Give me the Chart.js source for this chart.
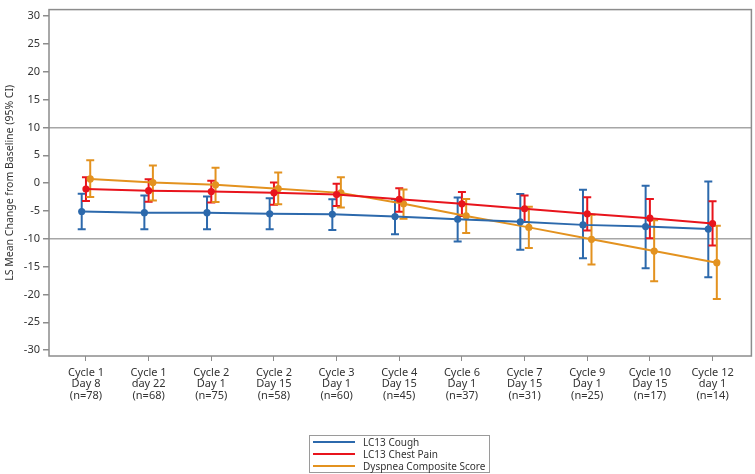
<!DOCTYPE html>
<html>
<head>
<meta charset="utf-8">
<script src="https://cdn.jsdelivr.net/npm/chart.js@4.4.1/dist/chart.umd.min.js"></script>
<style>
  html, body { margin: 0; padding: 0; background: #fff; }
  #wrap { position: relative; width: 755px; height: 474px; }
  #legend { position: absolute; left: 309px; top: 435px; width: 181px; height: 38px;
    border: 1px solid #9a9a9a; font-family: "Noto Sans", sans-serif; font-size: 10px; color: #333; box-sizing: border-box; padding-top: 0px; }
  .row { height: 12px; line-height: 12px; display: flex; align-items: center; white-space: nowrap; }
  .sw { width: 42px; height: 2px; margin-left: 3px; margin-right: 8px; flex: none; }
</style>
</head>
<body>
<div id="wrap">
  <canvas id="c" width="755" height="474"></canvas>
  <div id="legend"></div>
</div>
<script>
const categories = [
  ["Cycle 1", "Day 8", "(n=78)"],
  ["Cycle 1", "day 22", "(n=68)"],
  ["Cycle 2", "Day 1", "(n=75)"],
  ["Cycle 2", "Day 15", "(n=58)"],
  ["Cycle 3", "Day 1", "(n=60)"],
  ["Cycle 4", "Day 15", "(n=45)"],
  ["Cycle 6", "Day 1", "(n=37)"],
  ["Cycle 7", "Day 15", "(n=31)"],
  ["Cycle 9", "Day 1", "(n=25)"],
  ["Cycle 10", "Day 15", "(n=17)"],
  ["Cycle 12", "day 1", "(n=14)"]
];
const yTickLabels = [-30, -25, -20, -15, -10, -5, 0, 5, 10, 15, 20, 25, 30];
const refLines = [10, -10];

const coughMean  = [-5.1, -5.3, -5.3, -5.5, -5.6, -6.0, -6.5, -6.95, -7.5, -7.8, -8.25];
const coughLow   = [-8.3, -8.3, -8.3, -8.3, -8.4, -9.2, -10.5, -11.95, -13.5, -15.3, -16.9];
const coughHigh  = [-1.9, -2.2, -2.4, -2.7, -2.9, -2.9, -2.6, -1.95, -1.2, -0.45, 0.3];

const chestMean  = [-1.05, -1.35, -1.5, -1.75, -2.05, -2.9, -3.7, -4.6, -5.5, -6.3, -7.25];
const chestLow   = [-3.2, -3.35, -3.5, -3.9, -4.1, -5.15, -5.9, -7.0, -8.5, -9.9, -11.2];
const chestHigh  = [1.05, 0.7, 0.45, 0.1, -0.1, -0.9, -1.6, -2.2, -2.55, -2.85, -3.25];

const dyspMean   = [0.75, 0.1, -0.3, -1.0, -1.75, -3.7, -5.9, -7.95, -10.1, -12.2, -14.3];
const dyspLow    = [-2.5, -3.1, -3.4, -3.8, -4.4, -6.4, -8.95, -11.65, -14.6, -17.65, -20.8];
const dyspHigh   = [4.1, 3.15, 2.75, 1.9, 1.05, -1.15, -2.85, -4.25, -5.7, -6.65, -7.65];

const seriesNames = ["LC13 Cough", "LC13 Chest Pain", "Dyspnea Composite Score"];
const colors = ["#2C69AC", "#E8141C", "#E3921F"];
const jitter = [-0.068, 0, 0.068];

const means = [coughMean, chestMean, dyspMean];
const lows = [coughLow, chestLow, dyspLow];
const highs = [coughHigh, chestHigh, dyspHigh];

const FONT = '"Noto Sans", sans-serif';

const datasets = means.map((m, s) => ({
  label: seriesNames[s],
  data: m.map((v, i) => ({ x: i + jitter[s], y: v })),
  borderColor: colors[s],
  backgroundColor: colors[s],
  borderWidth: 2,
  pointRadius: 3.6,
  pointHoverRadius: 3.6,
  pointBorderWidth: 0,
  fill: false,
  tension: 0,
  lows: lows[s],
  highs: highs[s]
}));

const errorBars = {
  id: 'errorBars',
  beforeDatasetsDraw(chart) {
    const ctx = chart.ctx;
    const ys = chart.scales.y;
    chart.data.datasets.forEach((ds, di) => {
      const meta = chart.getDatasetMeta(di);
      ctx.save();
      ctx.strokeStyle = ds.borderColor;
      ctx.lineWidth = 2;
      meta.data.forEach((pt, i) => {
        const x = pt.x;
        const y1 = ys.getPixelForValue(ds.lows[i]);
        const y2 = ys.getPixelForValue(ds.highs[i]);
        ctx.beginPath();
        ctx.moveTo(x, y1); ctx.lineTo(x, y2);
        ctx.moveTo(x - 4, y1); ctx.lineTo(x + 4, y1);
        ctx.moveTo(x - 4, y2); ctx.lineTo(x + 4, y2);
        ctx.stroke();
      });
      ctx.restore();
    });
  },
  afterDraw(chart) {
    const a = chart.chartArea;
    const ctx = chart.ctx;
    ctx.save();
    ctx.strokeStyle = '#8c8c8c';
    ctx.lineWidth = 1.5;
    ctx.strokeRect(a.left, a.top, a.right - a.left, a.bottom - a.top);
    ctx.restore();
  }
};

new Chart(document.getElementById('c'), {
  type: 'line',
  data: { datasets },
  plugins: [errorBars],
  options: {
    responsive: false,
    animation: false,
    devicePixelRatio: 1,
    layout: { padding: { left: 0, right: 3, top: 3, bottom: 0 } },
    plugins: { legend: { display: false }, tooltip: { enabled: false } },
    scales: {
      x: {
        type: 'linear',
        min: -0.59,
        max: 10.62,
        afterBuildTicks: s => { s.ticks = categories.map((_, i) => ({ value: i })); },
        afterFit: s => { s.height = 118; },
        grid: { color: 'rgba(0,0,0,0)', tickColor: '#8c8c8c', tickLength: 5, drawOnChartArea: false },
        border: { display: false },
        ticks: {
          autoSkip: false, maxRotation: 0, minRotation: 0, padding: 6,
          color: '#333', font: { family: FONT, size: 11, lineHeight: 1.05 },
          callback: v => categories[Math.round(v)]
        }
      },
      y: {
        min: -31.06,
        max: 31.18,
        afterBuildTicks: s => { s.ticks = yTickLabels.map(v => ({ value: v })); },
        afterFit: s => { s.width = 49; },
        grid: {
          color: c => (c.tick && refLines.includes(c.tick.value)) ? '#a6a6a6' : 'rgba(0,0,0,0)',
          lineWidth: 1.5,
          tickColor: '#8c8c8c', tickLength: 6
        },
        border: { display: false },
        ticks: { color: '#333', padding: 3, font: { family: FONT, size: 11 } },
        title: {
          display: true, text: 'LS Mean Change from Baseline (95% CI)',
          color: '#333', font: { family: FONT, size: 10.5 }, padding: { top: 4, bottom: 0 }
        }
      }
    }
  }
});

const leg = document.getElementById('legend');
seriesNames.forEach((n, i) => {
  const r = document.createElement('div');
  r.className = 'row';
  const sw = document.createElement('span');
  sw.className = 'sw';
  sw.style.background = colors[i];
  const t = document.createElement('span');
  t.textContent = n;
  r.appendChild(sw); r.appendChild(t);
  leg.appendChild(r);
});
</script>
</body>
</html>
